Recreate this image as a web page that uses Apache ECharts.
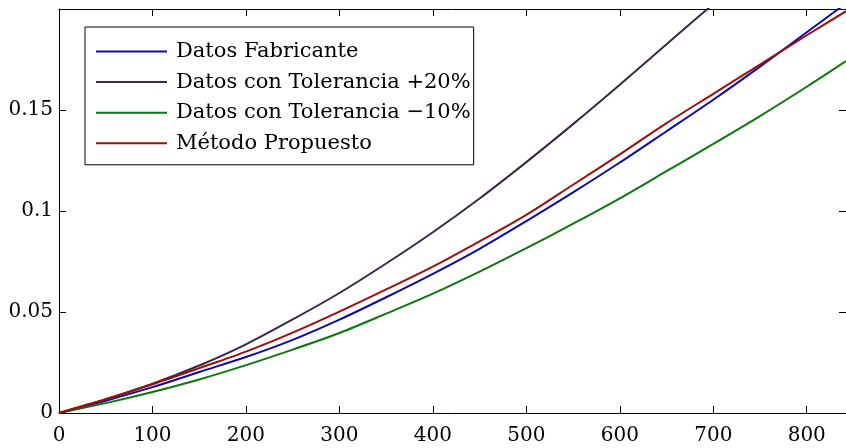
<!DOCTYPE html>
<html>
<head>
<meta charset="utf-8">
<script src="https://cdn.jsdelivr.net/npm/echarts@6/dist/echarts.min.js"></script>
<style>
  html, body { margin: 0; padding: 0; background: #fff; }
  #chart { width: 846px; height: 448px; }
</style>
</head>
<body>
<div id="chart"></div>
<script>
// Sample positions along the horizontal axis
const xs = [0, 50, 100, 150, 200, 250, 300, 350, 400, 450, 500, 550, 600, 650, 700, 750, 800, 842];

// Curves
const fabricante = [0, 0.0061, 0.0128, 0.0203, 0.0277, 0.0362, 0.0462, 0.0573, 0.0689, 0.0813, 0.0950, 0.1092, 0.1240, 0.1395, 0.1551, 0.1715, 0.1885, 0.2028];
const tolMas20   = [0, 0.0068, 0.0145, 0.0235, 0.0340, 0.0463, 0.0594, 0.0740, 0.0895, 0.1062, 0.1242, 0.1430, 0.1625, 0.1825, 0.2025, 0.2220, 0.2415, 0.2580];
const tolMenos10 = [0, 0.0049, 0.0104, 0.0166, 0.0237, 0.0314, 0.0396, 0.0492, 0.0591, 0.0700, 0.0816, 0.0937, 0.1063, 0.1197, 0.1332, 0.1470, 0.1615, 0.1742];
const propuesto  = [0, 0.0068, 0.0142, 0.0222, 0.0304, 0.0398, 0.0502, 0.0612, 0.0725, 0.0850, 0.0981, 0.1130, 0.1280, 0.1435, 0.1580, 0.1725, 0.1870, 0.1989];

const seriesNames = ['Datos Fabricante', 'Datos con Tolerancia +20%', 'Datos con Tolerancia \u221210%', 'M\u00e9todo Propuesto'];
const seriesData = [fabricante, tolMas20, tolMenos10, propuesto];
const colors = ['#0c0ca6', '#3a2845', '#0b780b', '#a20c0c'];

const FONT = 'DejaVu Serif';
const X_MAX = 842, Y_MAX = 0.2;

const pairs = arr => xs.map((x, i) => [x, arr[i]]);

const tickStyle = { show: true, inside: true, length: 7, lineStyle: { color: '#000', width: 1 } };
const axisLineStyle = { show: true, onZero: false, lineStyle: { color: '#000', width: 1 } };

const chart = echarts.init(document.getElementById('chart'), null, { renderer: 'canvas' });
chart.setOption({
  animation: false,
  backgroundColor: '#fff',
  color: colors,
  grid: { left: 59, top: 9, right: 0, bottom: 35, containLabel: false },
  legend: {
    orient: 'vertical',
    left: 85, top: 27,
    padding: [14, 3, 11, 11],
    itemWidth: 71, itemHeight: 20, itemGap: 9.6,
    backgroundColor: '#fff',
    borderColor: '#000', borderWidth: 1, borderRadius: 0,
    icon: 'path://M0,0 L71,0 L71,2 L0,2 Z',
    textStyle: { fontFamily: FONT, fontSize: 21, lineHeight: 20, color: '#000', padding: [0, 0, 0, 4] },
    data: seriesNames.map((n, i) => ({ name: n, itemStyle: { color: colors[i] } }))
  },
  xAxis: [{
    type: 'value', min: 0, max: X_MAX, interval: 100, position: 'bottom',
    axisLine: axisLineStyle, axisTick: tickStyle, splitLine: { show: false },
    axisLabel: { fontFamily: FONT, fontSize: 20, color: '#000', margin: 13, showMaxLabel: false }
  }, {
    type: 'value', min: 0, max: X_MAX, interval: 100, position: 'top',
    axisLine: axisLineStyle, axisTick: tickStyle, splitLine: { show: false },
    axisLabel: { show: false }
  }],
  yAxis: [{
    type: 'value', min: 0, max: Y_MAX, interval: 0.05, position: 'left',
    axisLine: axisLineStyle, axisTick: tickStyle, splitLine: { show: false },
    axisLabel: { fontFamily: FONT, fontSize: 20, color: '#000', margin: 6, showMaxLabel: false }
  }, {
    type: 'value', min: 0, max: Y_MAX, interval: 0.05, position: 'right',
    axisLine: axisLineStyle, axisTick: tickStyle, splitLine: { show: false },
    axisLabel: { show: false }
  }],
  series: seriesNames.map((name, i) => ({
    name, type: 'line', xAxisIndex: 0, yAxisIndex: 0,
    data: pairs(seriesData[i]),
    smooth: 0.3, symbol: 'none', clip: true,
    lineStyle: { color: colors[i], width: 2 },
    itemStyle: { color: colors[i] }
  }))
});
</script>
</body>
</html>
